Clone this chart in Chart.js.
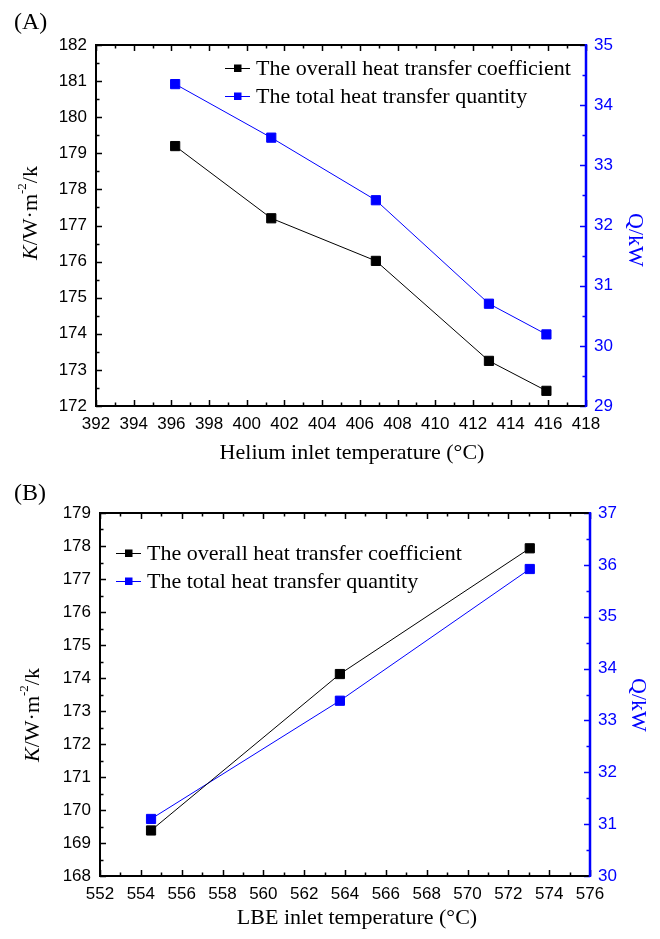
<!DOCTYPE html>
<html>
<head>
<meta charset="utf-8">
<script src="https://cdn.jsdelivr.net/npm/chart.js@4.4.1/dist/chart.umd.min.js"></script>
<style>
  body { margin: 0; background: #fff; }
  .panel { position: absolute; left: 0; }
</style>
</head>
<body>
<div class="panel" style="top:0"><canvas id="chartA" width="660" height="470"></canvas></div>
<div class="panel" style="top:470px"><canvas id="chartB" width="660" height="469"></canvas></div>
<script>
// panel A data
const heliumTemp = [396.2, 401.3, 406.85, 412.85, 415.9];
const kHelium = [179.2, 177.2, 176.02, 173.25, 172.42];
const qHelium = [34.35, 33.46, 32.42, 30.7, 30.19];

// panel B data
const lbeTemp = [554.5, 563.75, 573.05];
const kLbe = [169.38, 174.12, 177.93];
const qLbe = [31.1, 33.38, 35.92];

// axis ranges (min, max, major step)
const xRangeA = [392, 418, 2];
const kRangeA = [172, 182, 1];
const qRangeA = [29, 35, 1];
const xRangeB = [552, 576, 2];
const kRangeB = [168, 179, 1];
const qRangeB = [30, 37, 1];

const seriesNames = ['The overall heat transfer coefficient', 'The total heat transfer quantity'];
const BLUE = '#0000ff';
const SERIF = '"Liberation Serif", "Times New Roman", serif';
const SANS = '"Liberation Sans", Arial, sans-serif';

// draws frame, inward ticks, titles and legend
const framePlugin = {
  id: 'frame',
  afterDraw(chart, args, o) {
    const ctx = chart.ctx;
    const a = chart.chartArea;
    const sx = chart.scales.x, sy = chart.scales.y, sq = chart.scales.y2;
    ctx.save();

    // inward ticks
    ctx.lineWidth = 1.5;
    ctx.strokeStyle = '#000';
    ctx.beginPath();
    for (let v = sx.min; v <= sx.max + 1e-9; v += o.xStep / 2) {
      const px = Math.round(sx.getPixelForValue(v)) + 0.5;
      const len = Math.abs((v - sx.min) % o.xStep) < 1e-9 ? 6 : 3.5;
      ctx.moveTo(px, a.bottom); ctx.lineTo(px, a.bottom - len);
      ctx.moveTo(px, a.top); ctx.lineTo(px, a.top + len);
    }
    for (let v = sy.min; v <= sy.max + 1e-9; v += 0.5) {
      const py = Math.round(sy.getPixelForValue(v)) + 0.5;
      const len = Math.abs(v - Math.round(v)) < 1e-9 ? 6 : 3.5;
      ctx.moveTo(a.left, py); ctx.lineTo(a.left + len, py);
    }
    ctx.stroke();
    ctx.strokeStyle = BLUE;
    ctx.beginPath();
    for (let v = sq.min; v <= sq.max + 1e-9; v += 0.5) {
      const py = Math.round(sq.getPixelForValue(v)) + 0.5;
      const len = Math.abs(v - Math.round(v)) < 1e-9 ? 6 : 3.5;
      ctx.moveTo(a.right, py); ctx.lineTo(a.right - len, py);
    }
    ctx.stroke();

    // axis lines
    ctx.lineWidth = 2;
    ctx.strokeStyle = '#000';
    ctx.beginPath();
    ctx.moveTo(a.right, a.top); ctx.lineTo(a.left, a.top);
    ctx.lineTo(a.left, a.bottom); ctx.lineTo(a.right, a.bottom);
    ctx.stroke();
    ctx.strokeStyle = BLUE;
    ctx.lineWidth = 2.5;
    ctx.beginPath();
    ctx.moveTo(a.right, a.top - 1); ctx.lineTo(a.right, a.bottom + 1);
    ctx.stroke();

    // panel label
    ctx.fillStyle = '#000';
    ctx.textBaseline = 'middle';
    ctx.textAlign = 'left';
    ctx.font = '24px ' + SERIF;
    ctx.fillText(o.label, 14, o.labelY);

    // x title
    ctx.font = '22px ' + SERIF;
    ctx.textAlign = 'center';
    ctx.fillText(o.xTitle, o.xTitlePos[0], o.xTitlePos[1]);

    // left y title: K/W·m^-2/k
    ctx.save();
    ctx.translate(o.kTitlePos[0], o.kTitlePos[1]);
    ctx.rotate(-Math.PI / 2);
    ctx.textAlign = 'left';
    const parts = [
      ['K', 'italic 22px ' + SERIF, 0],
      ['/W\u00b7m', '22px ' + SERIF, 0],
      ['-2', '13px ' + SERIF, -8],
      ['/k', '22px ' + SERIF, 0]
    ];
    let total = 0;
    parts.forEach(p => { ctx.font = p[1]; total += ctx.measureText(p[0]).width; });
    let cx = -total / 2;
    parts.forEach(p => {
      ctx.font = p[1];
      ctx.fillText(p[0], cx, p[2]);
      cx += ctx.measureText(p[0]).width;
    });
    ctx.restore();

    // right y title
    ctx.save();
    ctx.translate(o.qTitlePos[0], o.qTitlePos[1]);
    ctx.rotate(Math.PI / 2);
    ctx.fillStyle = BLUE;
    ctx.textAlign = 'center';
    ctx.font = '22px ' + SERIF;
    ctx.fillText('Q/kW', 0, 0);
    ctx.restore();

    // legend
    chart.data.datasets.forEach((ds, i) => {
      const ly = o.legendY[i];
      const lx = o.legendX;
      ctx.strokeStyle = ds.borderColor;
      ctx.lineWidth = 1;
      ctx.beginPath();
      ctx.moveTo(lx, ly + 0.5); ctx.lineTo(lx + 25, ly + 0.5);
      ctx.stroke();
      ctx.fillStyle = ds.borderColor;
      ctx.fillRect(lx + 9, ly - 3.5, 7.5, 7.5);
      ctx.fillStyle = '#000';
      ctx.textAlign = 'left';
      ctx.font = '22px ' + SERIF;
      ctx.fillText(ds.label, lx + 31, ly + 1);
    });
    ctx.restore();
  }
};

function makePanel(id, xs, ks, qs, xr, kr, qr, box, extra) {
  const toPts = (ys) => xs.map((x, i) => ({ x: x, y: ys[i] }));
  const tickFont = { family: SANS, size: 17 };
  return new Chart(document.getElementById(id), {
    type: 'line',
    data: {
      datasets: [
        {
          label: seriesNames[0], data: toPts(ks), yAxisID: 'y',
          borderColor: '#000', backgroundColor: '#000', borderWidth: 1,
          pointStyle: 'rect', pointRadius: 6.5, pointBorderWidth: 1
        },
        {
          label: seriesNames[1], data: toPts(qs), yAxisID: 'y2',
          borderColor: BLUE, backgroundColor: BLUE, borderWidth: 1,
          pointStyle: 'rect', pointRadius: 6.5, pointBorderWidth: 1
        }
      ]
    },
    options: {
      responsive: false,
      animation: false,
      events: [],
      layout: { padding: { top: box.top, left: 0, right: 0, bottom: 0 }, autoPadding: false },
      plugins: {
        legend: { display: false },
        tooltip: { enabled: false },
        frame: Object.assign({ xStep: xr[2] }, extra)
      },
      scales: {
        x: {
          type: 'linear', min: xr[0], max: xr[1],
          ticks: { stepSize: xr[2], font: tickFont, color: '#000', padding: 8, maxRotation: 0 },
          grid: { display: false, drawTicks: false },
          border: { display: false },
          afterFit: (s) => { s.height = box.xHeight; }
        },
        y: {
          type: 'linear', position: 'left', min: kr[0], max: kr[1],
          ticks: { stepSize: kr[2], font: tickFont, color: '#000', padding: 9 },
          grid: { display: false, drawTicks: false },
          border: { display: false },
          afterFit: (s) => { s.width = box.left; }
        },
        y2: {
          type: 'linear', position: 'right', min: qr[0], max: qr[1],
          ticks: { stepSize: qr[2], font: tickFont, color: BLUE, padding: 8 },
          grid: { display: false, drawTicks: false },
          border: { display: false },
          afterFit: (s) => { s.width = box.right; }
        }
      }
    },
    plugins: [framePlugin]
  });
}

makePanel('chartA', heliumTemp, kHelium, qHelium, xRangeA, kRangeA, qRangeA,
  { top: 45, left: 96, right: 74, xHeight: 64 },
  {
    label: '(A)', labelY: 23,
    xTitle: 'Helium inlet temperature (\u00b0C)', xTitlePos: [352, 453],
    kTitlePos: [31, 213], qTitlePos: [635, 240],
    legendX: 225, legendY: [68, 96]
  });

makePanel('chartB', lbeTemp, kLbe, qLbe, xRangeB, kRangeB, qRangeB,
  { top: 43, left: 100, right: 70, xHeight: 63 },
  {
    label: '(B)', labelY: 24,
    xTitle: 'LBE inlet temperature (\u00b0C)', xTitlePos: [357, 448],
    kTitlePos: [33, 245], qTitlePos: [638, 235],
    legendX: 116, legendY: [83, 111]
  });
</script>
</body>
</html>
